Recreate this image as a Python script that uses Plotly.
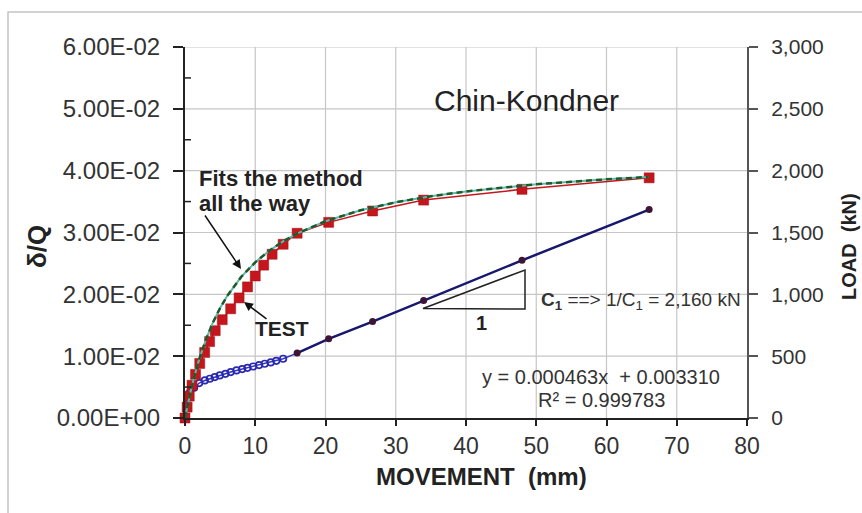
import plotly.graph_objects as go

# ---------------- data ----------------
# Test curve: movement (mm) vs load (kN) -> right axis
test_move = [0, 0.3, 0.6, 1.0, 1.5, 2.1, 2.8, 3.5, 4.3, 5.3, 6.5, 7.7, 8.9, 10.0,
             11.2, 12.4, 13.97, 15.96, 20.45, 26.7, 33.97, 47.97, 66.07]
test_load = [0, 88, 177, 265, 353, 441, 530, 618, 706, 795, 883, 971, 1060, 1148,
             1236, 1324, 1405, 1494, 1582, 1674, 1762, 1849, 1942]

# Chin-Kondner fitted curve ("Fits the method all the way") -> right axis
fit_move = [0, 0.5, 1, 2, 3, 4, 5, 6, 8, 10, 12, 14, 16, 20, 25, 30, 35, 40, 50, 60, 66]
fit_load = [0, 141, 265, 472, 638, 775, 889, 986, 1141, 1259, 1353, 1430, 1493, 1591,
            1680, 1744, 1793, 1832, 1890, 1930, 1949]

# delta/Q, early points (open circles) -> left axis
open_move = [0.25, 0.7, 1.3, 2.02, 2.82, 3.53, 4.24, 4.95, 5.76, 6.51, 7.33, 8.14,
             8.89, 9.70, 10.55, 11.35, 12.2, 13.0, 13.97]
open_ratio = [0.0031, 0.0041, 0.0049, 0.00565, 0.00607, 0.00635, 0.00662, 0.00688,
              0.00715, 0.00743, 0.00769, 0.00791, 0.00812, 0.00833, 0.00856, 0.00877,
              0.00898, 0.00925, 0.00958]

# delta/Q, points used for the linear fit (filled) -> left axis
lin_move = [15.96, 20.45, 26.7, 33.97, 47.97, 66.07]
lin_ratio = [0.0105, 0.0128, 0.0156, 0.0190, 0.0255, 0.0337]

# axis ticks
x_ticks = [0, 10, 20, 30, 40, 50, 60, 70, 80]
y_ticks = [0, 0.01, 0.02, 0.03, 0.04, 0.05, 0.06]
y_ticktext = ["0.00E+00", "1.00E-02", "2.00E-02", "3.00E-02", "4.00E-02", "5.00E-02", "6.00E-02"]
y_minor = [0.005, 0.015, 0.025, 0.035, 0.045, 0.055]
y2_ticks = [0, 500, 1000, 1500, 2000, 2500, 3000]
y2_ticktext = ["0", "500", "1,000", "1,500", "2,000", "2,500", "3,000"]

# ---------------- layout geometry ----------------
W, H = 862, 513
L, R, T, B = 185, 115, 47, 95
PW, PH = W - L - R, H - T - B


def px(x):
    return (x - L) / PW


def py(y):
    return (H - B - y) / PH


FONT = "Liberation Sans, Arial, sans-serif"
TXT = "#333333"
GRID = "#c6c6c6"

fig = go.Figure()

# delta/Q thin line + open circles
fig.add_trace(go.Scatter(
    x=open_move + lin_move[:1], y=open_ratio + lin_ratio[:1], mode="lines",
    line=dict(color="#3535c0", width=1.5), yaxis="y", showlegend=False, hoverinfo="skip"))
fig.add_trace(go.Scatter(
    x=open_move, y=open_ratio, mode="markers",
    marker=dict(symbol="circle-open", size=6.5, color="#2a2ab0", line=dict(width=1.7)),
    yaxis="y", showlegend=False))
# linear part
fig.add_trace(go.Scatter(
    x=lin_move, y=lin_ratio, mode="lines+markers",
    line=dict(color="#17176e", width=2.5),
    marker=dict(symbol="circle", size=7, color="#3d1636"),
    yaxis="y", showlegend=False))

# test curve (red squares)
fig.add_trace(go.Scatter(
    x=test_move, y=test_load, mode="lines+markers",
    line=dict(color="#c4161c", width=1.5),
    marker=dict(symbol="square", size=10, color="#c4161c", line=dict(color="#a01015", width=0.5)),
    yaxis="y2", cliponaxis=False, showlegend=False))

# Chin fit: teal under-line + dark green dashes
fig.add_trace(go.Scatter(
    x=fit_move, y=fit_load, mode="lines",
    line=dict(color="#5fb8b0", width=2), yaxis="y2", showlegend=False, hoverinfo="skip"))
fig.add_trace(go.Scatter(
    x=fit_move, y=fit_load, mode="lines",
    line=dict(color="#1e5a28", width=2.5, dash="6px,4px"), yaxis="y2", showlegend=False))

fig.update_layout(
    width=W, height=H,
    margin=dict(l=L, r=R, t=T, b=B, autoexpand=False),
    paper_bgcolor="white", plot_bgcolor="white",
    font=dict(family=FONT, color=TXT),
    showlegend=False,
    xaxis=dict(
        range=[0, 80], tickvals=x_ticks, ticktext=[str(v) for v in x_ticks],
        showgrid=False,
        showline=True, linecolor="#222222", linewidth=2,
        ticks="outside", ticklen=6, tickcolor="#222222", tickwidth=1.5,
        tickfont=dict(size=23, color=TXT, family=FONT), zeroline=False,
        ticklabelstandoff=0,
    ),
    yaxis=dict(
        range=[0, 0.06], tickvals=y_ticks, ticktext=y_ticktext,
        showgrid=False,
        showline=True, linecolor="#222222", linewidth=2,
        ticks="outside", ticklen=10, tickcolor="#222222", tickwidth=1.5,
        tickfont=dict(size=24, color=TXT, family=FONT), zeroline=False,
        ticklabelstandoff=8,
    ),
    yaxis2=dict(
        range=[0, 3000], tickvals=y2_ticks, ticktext=y2_ticktext,
        overlaying="y", side="right", showgrid=False,
        showline=True, linecolor="#555555", linewidth=2,
        ticks="outside", ticklen=9, tickcolor="#555555", tickwidth=1.5,
        tickfont=dict(size=21, color=TXT, family=FONT), zeroline=False,
        ticklabelstandoff=9,
    ),
)

shapes = [
    # outer frame
    dict(type="rect", xref="paper", yref="paper", x0=px(8), x1=px(870), y0=py(530), y1=py(12),
         line=dict(color="#c4c4c4", width=1.5), fillcolor="rgba(0,0,0,0)"),
    # slope triangle
    dict(type="path", xref="paper", yref="paper",
         path=f"M {px(423)},{py(308.5)} L {px(525)},{py(270)} L {px(525)},{py(309)} Z",
         line=dict(color="#222222", width=1.5)),
]
# gridlines (drawn through the axis scales)
for v in x_ticks[1:-1]:
    shapes.append(dict(type="line", xref="x", yref="paper", x0=v, x1=v, y0=0, y1=1,
                       line=dict(color=GRID, width=1.2), layer="below"))
for v in y_ticks[1:]:
    shapes.append(dict(type="line", xref="paper", yref="y", x0=0, x1=1, y0=v, y1=v,
                       line=dict(color=GRID, width=1.2), layer="below"))
# minor inside ticks on the left axis
for v in y_minor:
    shapes.append(dict(type="line", xref="paper", yref="y", x0=0, x1=px(L + 6), y0=v, y1=v,
                       line=dict(color="#222222", width=1.5)))
fig.update_layout(shapes=shapes)

ann = [
    dict(x=px(526), y=py(100), text="Chin-Kondner", font=dict(size=30, color="#222222")),
    dict(x=px(197), y=py(178), text="<b>Fits the method</b>", xanchor="left", font=dict(size=22, color="#222222")),
    dict(x=px(197), y=py(203), text="<b>all the way</b>", xanchor="left", font=dict(size=22, color="#222222")),
    dict(x=px(282), y=py(328), text="<b>TEST</b>", font=dict(size=21, color="#222222")),
    dict(x=px(481), y=py(323), text="<b>1</b>", font=dict(size=20, color="#222222")),
    dict(x=px(539), y=py(301), text="<b>C<sub>1</sub></b> ==> 1/C<sub>1</sub> = 2,160 kN", xanchor="left",
         font=dict(size=19, color=TXT)),
    dict(x=px(601), y=py(377), text="y = 0.000463x  + 0.003310", font=dict(size=20, color=TXT)),
    dict(x=px(601), y=py(400), text="R² = 0.999783", font=dict(size=20, color=TXT)),
    dict(x=px(481), y=py(476), text="<b>MOVEMENT  (mm)</b>", font=dict(size=24, color="#222222")),
    dict(x=px(37), y=py(247), text="<b>δ/Q</b>", textangle=-90, font=dict(size=26, color="#222222")),
    dict(x=px(849), y=py(247), text="<b>LOAD  (kN)</b>", textangle=-90, font=dict(size=20, color="#222222")),
]
for a in ann:
    a.setdefault("xref", "paper")
    a.setdefault("yref", "paper")
    a.setdefault("showarrow", False)
    a.setdefault("xanchor", "center")
    a.setdefault("yanchor", "middle")
    fig.add_annotation(**a)

# arrows
for (x0, y0, x1, y1) in [(204, 214, 241, 269), (268, 320, 244, 302)]:
    fig.add_annotation(xref="paper", yref="paper", axref="pixel", ayref="pixel",
                       x=px(x1), y=py(y1), ax=x0 - x1, ay=y0 - y1, text="",
                       showarrow=True, arrowhead=2, arrowsize=1.2, arrowwidth=1.5, arrowcolor="#111111")

fig.write_html("out.html")
